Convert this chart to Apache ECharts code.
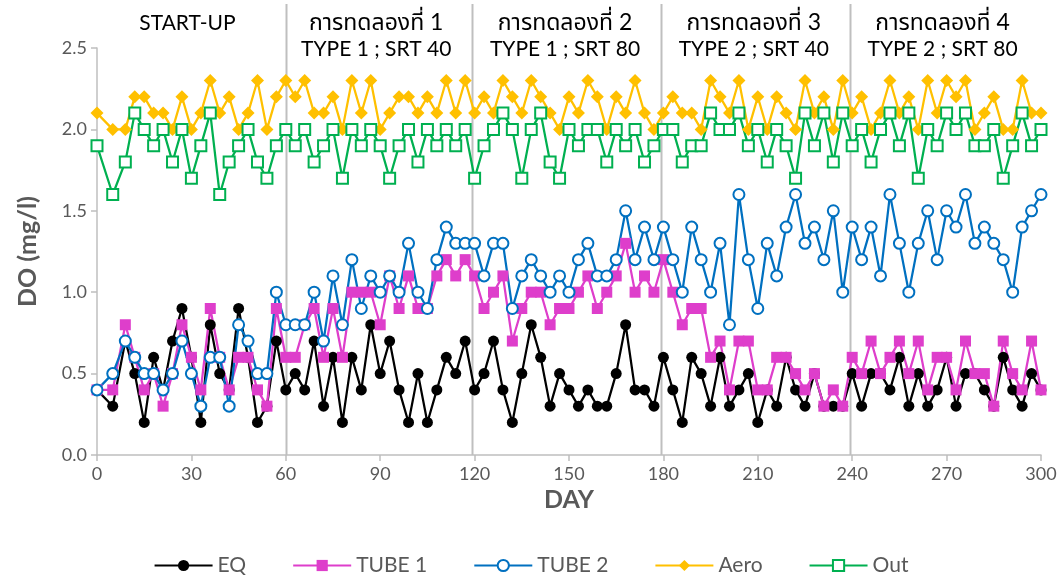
<!DOCTYPE html>
<html>
<head>
<meta charset="utf-8">
<script src="https://cdn.jsdelivr.net/npm/echarts@6/dist/echarts.min.js"></script>
<style>
  html, body { margin: 0; padding: 0; background: #fff; }
  #chart { width: 1062px; height: 576px; }
</style>
</head>
<body>
<div id="chart"></div>
<script>
// Sampling days (first three irregular, then every 3 days)
const days = [0, 5, 9, 12, 15, 18, 21, 24, 27, 30, 33, 36, 39, 42, 45, 48, 51, 54, 57, 60,
  63, 66, 69, 72, 75, 78, 81, 84, 87, 90, 93, 96, 99, 102, 105, 108, 111, 114, 117, 120,
  123, 126, 129, 132, 135, 138, 141, 144, 147, 150, 153, 156, 159, 162, 165, 168, 171, 174, 177, 180,
  183, 186, 189, 192, 195, 198, 201, 204, 207, 210, 213, 216, 219, 222, 225, 228, 231, 234, 237, 240,
  243, 246, 249, 252, 255, 258, 261, 264, 267, 270, 273, 276, 279, 282, 285, 288, 291, 294, 297, 300];

// Dissolved oxygen, mg/l
const eq = [0.4, 0.3, 0.7, 0.5, 0.2, 0.6, 0.4, 0.7, 0.9, 0.6, 0.2, 0.8, 0.5, 0.4, 0.9, 0.6, 0.2, 0.3, 0.7, 0.4,
  0.5, 0.4, 0.7, 0.3, 0.6, 0.2, 0.6, 0.4, 0.8, 0.5, 0.7, 0.4, 0.2, 0.5, 0.2, 0.4, 0.6, 0.5, 0.7, 0.4,
  0.5, 0.7, 0.4, 0.2, 0.5, 0.8, 0.6, 0.3, 0.5, 0.4, 0.3, 0.4, 0.3, 0.3, 0.5, 0.8, 0.4, 0.4, 0.3, 0.6,
  0.4, 0.2, 0.6, 0.5, 0.3, 0.6, 0.3, 0.4, 0.5, 0.2, 0.4, 0.3, 0.6, 0.4, 0.3, 0.5, 0.3, 0.3, 0.3, 0.5,
  0.3, 0.5, 0.5, 0.4, 0.6, 0.3, 0.5, 0.3, 0.4, 0.6, 0.3, 0.5, 0.5, 0.4, 0.3, 0.6, 0.4, 0.3, 0.5, 0.4];

const tube1 = [0.4, 0.4, 0.8, 0.6, 0.4, 0.5, 0.3, 0.5, 0.8, 0.6, 0.4, 0.9, 0.6, 0.4, 0.6, 0.6, 0.4, 0.3, 0.9, 0.6,
  0.6, 0.8, 0.9, 0.6, 0.9, 0.6, 1.0, 1.0, 1.0, 0.8, 1.1, 0.9, 1.1, 0.9, 0.9, 1.1, 1.2, 1.1, 1.2, 1.1,
  0.9, 1.0, 1.1, 0.7, 0.9, 1.0, 1.0, 0.8, 0.9, 0.9, 1.0, 1.1, 0.9, 1.0, 1.1, 1.3, 1.0, 1.1, 1.0, 1.2,
  1.0, 0.8, 0.9, 0.9, 0.6, 0.7, 0.4, 0.7, 0.7, 0.4, 0.4, 0.6, 0.6, 0.5, 0.4, 0.5, 0.3, 0.4, 0.3, 0.6,
  0.5, 0.7, 0.5, 0.6, 0.7, 0.5, 0.7, 0.4, 0.6, 0.6, 0.4, 0.7, 0.5, 0.5, 0.3, 0.7, 0.5, 0.4, 0.7, 0.4];

const tube2 = [0.4, 0.5, 0.7, 0.6, 0.5, 0.5, 0.4, 0.5, 0.7, 0.5, 0.3, 0.6, 0.6, 0.3, 0.8, 0.7, 0.5, 0.5, 1.0, 0.8,
  0.8, 0.8, 1.0, 0.7, 1.1, 0.8, 1.2, 0.9, 1.1, 1.0, 1.1, 1.0, 1.3, 1.0, 0.9, 1.2, 1.4, 1.3, 1.3, 1.3,
  1.1, 1.3, 1.3, 0.9, 1.1, 1.2, 1.1, 1.0, 1.1, 1.0, 1.2, 1.3, 1.1, 1.1, 1.2, 1.5, 1.2, 1.4, 1.2, 1.4,
  1.2, 1.0, 1.4, 1.2, 1.0, 1.3, 0.8, 1.6, 1.2, 0.9, 1.3, 1.1, 1.4, 1.6, 1.3, 1.4, 1.2, 1.5, 1.0, 1.4,
  1.2, 1.4, 1.1, 1.6, 1.3, 1.0, 1.3, 1.5, 1.2, 1.5, 1.4, 1.6, 1.3, 1.4, 1.3, 1.2, 1.0, 1.4, 1.5, 1.6];

const aero = [2.1, 2.0, 2.0, 2.2, 2.2, 2.1, 2.1, 2.0, 2.2, 2.0, 2.1, 2.3, 2.1, 2.2, 2.0, 2.1, 2.3, 2.0, 2.2, 2.3,
  2.2, 2.3, 2.1, 2.1, 2.2, 2.0, 2.3, 2.1, 2.3, 2.0, 2.1, 2.2, 2.2, 2.1, 2.2, 2.1, 2.3, 2.1, 2.3, 2.1,
  2.2, 2.1, 2.3, 2.2, 2.1, 2.3, 2.2, 2.1, 2.0, 2.2, 2.1, 2.3, 2.2, 2.0, 2.2, 2.1, 2.3, 2.1, 2.0, 2.1,
  2.2, 2.1, 2.1, 2.0, 2.3, 2.2, 2.1, 2.3, 2.0, 2.2, 2.0, 2.2, 2.1, 2.0, 2.3, 2.1, 2.2, 2.0, 2.3, 2.1,
  2.2, 2.0, 2.1, 2.3, 2.1, 2.2, 2.0, 2.3, 2.1, 2.3, 2.2, 2.3, 2.0, 2.1, 2.2, 2.0, 2.0, 2.3, 2.1, 2.1];

const out = [1.9, 1.6, 1.8, 2.1, 2.0, 1.9, 2.0, 1.8, 2.0, 1.7, 1.9, 2.1, 1.6, 1.8, 1.9, 2.0, 1.8, 1.7, 1.9, 2.0,
  1.9, 2.0, 1.8, 1.9, 2.0, 1.7, 2.0, 1.9, 2.0, 1.9, 1.7, 1.9, 2.0, 1.8, 2.0, 1.9, 2.0, 1.9, 2.0, 1.7,
  1.9, 2.0, 2.1, 2.0, 1.7, 2.0, 2.1, 1.8, 1.7, 2.0, 1.9, 2.0, 2.0, 1.8, 2.0, 1.9, 2.0, 1.8, 1.9, 2.0,
  2.0, 1.8, 1.9, 1.9, 2.1, 2.0, 2.0, 2.1, 1.9, 2.0, 1.8, 2.0, 1.9, 1.7, 2.1, 1.9, 2.1, 1.8, 2.1, 1.9,
  2.0, 1.8, 2.0, 2.1, 1.9, 2.1, 1.7, 2.0, 1.9, 2.1, 2.0, 2.1, 1.9, 1.9, 2.0, 1.7, 1.9, 2.1, 1.9, 2.0];

// Experimental phases: day ranges, separator lines and two-line headings
const phaseBounds = [0, 60, 120, 180, 240, 300];
const separatorDays = [60, 119.2, 179.2, 239.3];
const phaseLabels = [
  ['START-UP'],
  ['การทดลองที่ 1', 'TYPE 1 ; SRT 40'],
  ['การทดลองที่ 2', 'TYPE 1 ; SRT 80'],
  ['การทดลองที่ 3', 'TYPE 2 ; SRT 40'],
  ['การทดลองที่ 4', 'TYPE 2 ; SRT 80']
];

const FONT = 'Lato, "Noto Sans", "Noto Sans Thai", "DejaVu Sans", sans-serif';
const AXIS_GREY = '#bfbfbf';
const TEXT_GREY = '#595959';

const pairs = vals => days.map((d, i) => [d, vals[i]]);

function lineSeries(name, vals, color, symbol, size, hollow) {
  return {
    name: name,
    type: 'line',
    data: pairs(vals),
    symbol: symbol,
    symbolSize: size,
    showAllSymbol: true,
    lineStyle: { color: color, width: 2.25 },
    itemStyle: hollow
      ? { color: '#ffffff', borderColor: color, borderWidth: 2 }
      : { color: color, borderColor: color, borderWidth: 0 },
    emphasis: { disabled: true },
    animation: false
  };
}

const chart = echarts.init(document.getElementById('chart'), null, { renderer: 'canvas' });

chart.setOption({
  animation: false,
  textStyle: { fontFamily: FONT },
  grid: { left: 97, right: 21, top: 48, bottom: 121, containLabel: false },
  xAxis: {
    type: 'value',
    min: 0, max: 300, interval: 30,
    name: 'DAY',
    nameLocation: 'middle',
    nameGap: 19,
    nameTextStyle: { fontSize: 25, fontWeight: 'bold', color: TEXT_GREY, fontFamily: FONT },
    axisLine: { lineStyle: { color: AXIS_GREY, width: 1.5 } },
    axisTick: { show: true, length: 6, lineStyle: { color: AXIS_GREY, width: 1.5 } },
    axisLabel: { fontSize: 18, color: TEXT_GREY, margin: 10, fontFamily: FONT },
    splitLine: { show: false }
  },
  yAxis: {
    type: 'value',
    min: 0, max: 2.5, interval: 0.5,
    name: 'DO (mg/l)',
    nameLocation: 'middle',
    nameGap: 57,
    nameTextStyle: { fontSize: 25, fontWeight: 'bold', color: TEXT_GREY, fontFamily: FONT },
    axisLine: { show: true, lineStyle: { color: AXIS_GREY, width: 1.5 } },
    axisTick: { show: true, length: 6, lineStyle: { color: AXIS_GREY, width: 1.5 } },
    axisLabel: { fontSize: 18, color: TEXT_GREY, margin: 10, fontFamily: FONT,
      formatter: v => v.toFixed(1) },
    splitLine: { show: false }
  },
  legend: {
    bottom: -5,
    left: 'center',
    itemWidth: 58,
    itemHeight: 14,
    itemGap: 46,
    textStyle: { fontSize: 21, color: TEXT_GREY, fontFamily: FONT },
    data: ['EQ', 'TUBE 1', 'TUBE 2', 'Aero', 'Out']
  },
  series: [
    lineSeries('EQ', eq, '#000000', 'circle', 11, false),
    lineSeries('TUBE 1', tube1, '#DE3ECB', 'rect', 11, false),
    lineSeries('TUBE 2', tube2, '#0070C0', 'circle', 11, true),
    lineSeries('Aero', aero, '#FFC000', 'diamond', 13, false),
    lineSeries('Out', out, '#00B050', 'rect', 11, true)
  ]
});

// Phase separators and headings, positioned through the axis scales
function drawPhases() {
  const yBase = chart.convertToPixel({ gridIndex: 0 }, [0, 0])[1];
  const elements = [];
  separatorDays.forEach(d => {
    const x = Math.round(chart.convertToPixel({ gridIndex: 0 }, [d, 0])[0]) + 0.5;
    elements.push({
      type: 'line', z: 0, silent: true,
      shape: { x1: x, y1: 4, x2: x, y2: yBase },
      style: { stroke: AXIS_GREY, lineWidth: 2 }
    });
  });
  for (let i = 0; i < phaseLabels.length; i++) {
    const mid = (phaseBounds[i] + phaseBounds[i + 1]) / 2;
    const cx = chart.convertToPixel({ gridIndex: 0 }, [mid, 0])[0] - 4;
    phaseLabels[i].forEach((t, k) => {
      // the Thai heading line is set a touch larger than the Latin one
      const isThai = /[\u0E00-\u0E7F]/.test(t);
      elements.push({
        type: 'text', z: 10, silent: true,
        x: cx, y: 23 + k * 26,
        style: {
          text: t, fill: '#000000', fontSize: isThai ? 23 : 21, fontFamily: FONT,
          align: 'center', verticalAlign: 'middle'
        }
      });
    });
  }
  chart.setOption({ graphic: elements });
}
drawPhases();
</script>
</body>
</html>
